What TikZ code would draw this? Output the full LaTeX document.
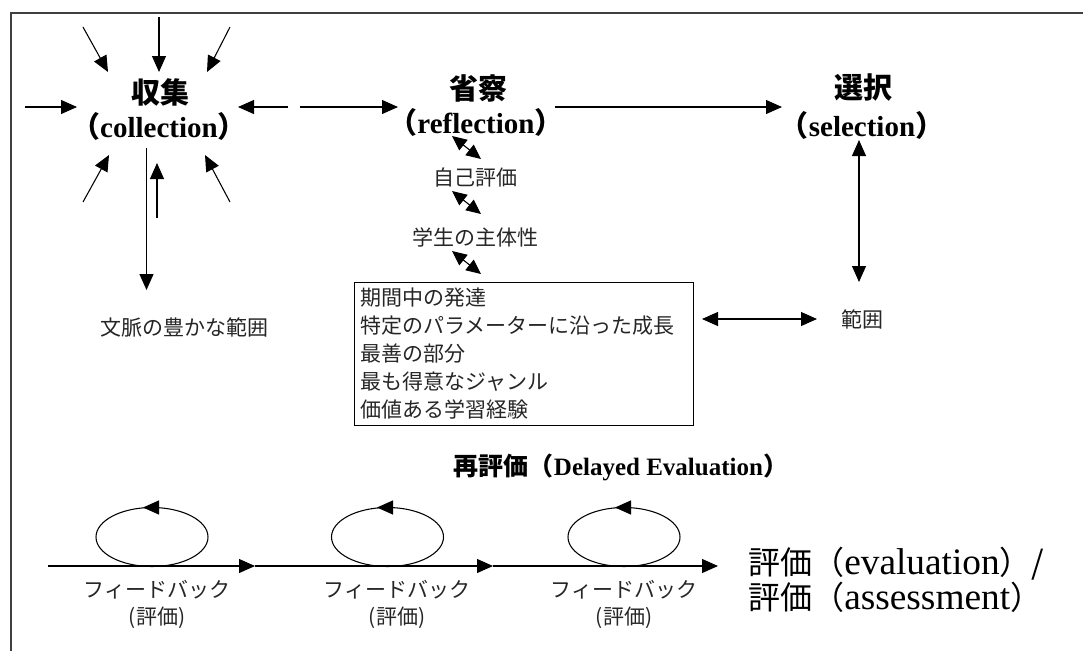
\documentclass[tikz,border=0pt]{standalone}
\usepackage{fontspec}
\setmainfont{Liberation Serif}
\newfontfamily\jp{Noto Sans CJK JP}
\usetikzlibrary{arrows.meta}
\newcommand\jtxt[1]{{\jp #1}}
\tikzset{
  conn/.style={line width=0.8pt, -{Triangle[length=12pt,width=10.5pt]}},
  dconn/.style={line width=0.8pt, {Triangle[length=12pt,width=10.5pt]}-{Triangle[length=12pt,width=10.5pt]}},
  sdconn/.style={line width=0.8pt, {Triangle[length=11pt,width=10pt]}-{Triangle[length=11pt,width=10pt]}},
  head/.style={inner sep=0pt, font=\fontsize{21.75}{26}\selectfont\bfseries},
  small/.style={inner sep=0pt, text=black!85, font=\jp\fontsize{15.75}{21}\selectfont},
  big/.style={inner sep=0pt, anchor=west, font=\fontsize{24}{30}\selectfont},
  loop/.style={line width=0.8pt},
  frame/.style={line width=0.9pt, draw=black!75},
}
\begin{document}
\begin{tikzpicture}[x=0.75pt,y=-0.75pt]
\useasboundingbox (0,0) rectangle (1083,651);
% frame
\draw[frame] (1083,13) -- (11,13) -- (11,651);

% headings
\node[head] (colJ) at (160,92) {\jtxt{収集}};
\node[head] (colE) at (159,126) {\jtxt{（}collection\jtxt{）}};
\node[head] (refJ) at (478,88) {\jtxt{省察}};
\node[head] (refE) at (476,122) {\jtxt{（}reflection\jtxt{）}};
\node[head] (selJ) at (863,88) {\jtxt{選択}};
\node[head] (selE) at (862,125) {\jtxt{（}selection\jtxt{）}};

% radial arrows into collection
\coordinate (r1a) at (83,27);  \coordinate (r1b) at (108,72);
\coordinate (r2a) at (159,17); \coordinate (r2b) at (159,72);
\coordinate (r3a) at (230,27); \coordinate (r3b) at (207,72);
\coordinate (r4a) at (25,107); \coordinate (r4b) at (77,107);
\coordinate (r5a) at (288,107);\coordinate (r5b) at (238,107);
\coordinate (r6a) at (83,202); \coordinate (r6b) at (109,155);
\coordinate (r7a) at (230,202);\coordinate (r7b) at (205,155);
\coordinate (r8a) at (157,218);\coordinate (r8b) at (157,163);
\foreach \i in {1,...,8} \draw[conn] (r\i a) -- (r\i b);

% collection -> context
\node[small] (ctx) at (184,327) {文脈の豊かな範囲};
\coordinate (dwa) at (146.5,148);
\coordinate (dwb) at (146.5,290);
\draw[conn] (dwa) -- (dwb);

% collection -> reflection -> selection
\coordinate (cr1) at (300,107); \coordinate (cr2) at (398,107);
\draw[conn] (cr1) -- (cr2);
\coordinate (rs1) at (555,107); \coordinate (rs2) at (782,107);
\draw[conn] (rs1) -- (rs2);

% reflection chain
\node[small] (self) at (475,178) {自己評価};
\node[small] (agency) at (475,237) {学生の主体性};
\coordinate (d1a) at (452,136); \coordinate (d1b) at (481,159);
\coordinate (d2a) at (452,191); \coordinate (d2b) at (481,214);
\coordinate (d3a) at (452,251); \coordinate (d3b) at (481,274);
\draw[sdconn] (d1a) -- (d1b);
\draw[sdconn] (d2a) -- (d2b);
\draw[sdconn] (d3a) -- (d3b);

% box
\node[draw, line width=0.7pt, anchor=north west, inner xsep=4.5pt, inner ysep=0pt,
      text width=245pt, minimum height=107.25pt, align=left, text=black!85,
      font=\jp\fontsize{15.75}{21}\selectfont] (box) at (354,282)
  {期間中の発達\\特定のパラメーターに沿った成長\\最善の部分\\最も得意なジャンル\\価値ある学習経験};

% range
\node[small] (range) at (862,319) {範囲};
\coordinate (s1) at (859,140); \coordinate (s2) at (859,282);
\draw[dconn] (s1) -- (s2);
\coordinate (b1) at (702,319); \coordinate (b2) at (817,319);
\draw[dconn] (b1) -- (b2);

% delayed evaluation
\node[inner sep=0pt, font=\fontsize{18.75}{22}\selectfont\bfseries] (delay) at (621,467)
  {\jtxt{再評価（}Delayed Evaluation\jtxt{）}};

% loops
\foreach \cx/\tx/\n in {152/143/1, 387.5/377/2, 624/615/3}{
  \draw[loop] (\cx,537) ellipse [x radius=56, y radius=29.5];
  \coordinate (la\n) at (\tx+15,507.5);
  \coordinate (lb\n) at (\tx,507.5);
  \draw[conn] (la\n) -- (lb\n);
}
\coordinate (L0) at (48,566);
\coordinate (L1) at (255,566);
\coordinate (L2) at (493,566);
\coordinate (L3) at (718,566);
\draw[conn] (L0) -- (L1);
\draw[conn] (L1) -- (L2);
\draw[conn] (L2) -- (L3);

\node[small] (fb1) at (157,590) {フィードバック};
\node[small] (fe1) at (157,618) {(評価)};
\node[small] (fb2) at (397,590) {フィードバック};
\node[small] (fe2) at (397,618) {(評価)};
\node[small] (fb3) at (624,590) {フィードバック};
\node[small] (fe3) at (624,618) {(評価)};

% final
\node[big] (ev1) at (748,564) {\jtxt{評価（}{\fontsize{28}{30}\selectfont evaluation}\jtxt{）/}};
\node[big] (ev2) at (748,597) {\jtxt{評価（}{\fontsize{28}{30}\selectfont assessment}\jtxt{）}};
\end{tikzpicture}
\end{document}
